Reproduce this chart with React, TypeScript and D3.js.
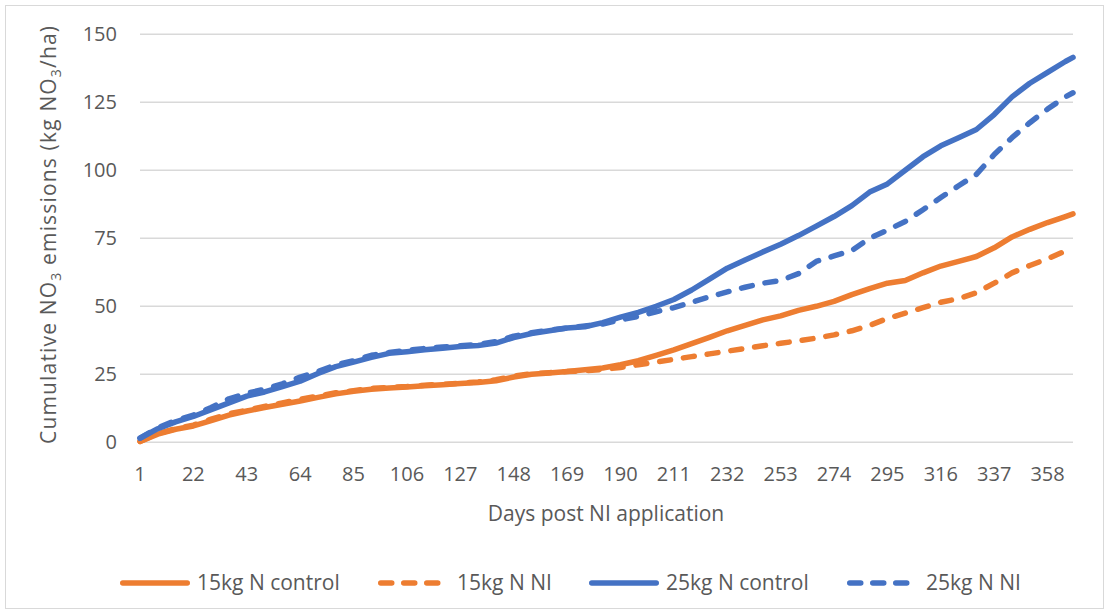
import React, { useEffect, useRef } from 'react';
import * as d3 from 'd3';

// Days at which the cumulative values were read
const days = [
  1, 8, 15, 22, 29, 36, 43, 50, 57, 64, 71, 78, 85, 92, 99, 106, 113, 120, 127, 134, 141, 148,
  155, 162, 169, 176, 183, 190, 197, 204, 211, 218, 225, 232, 239, 246, 253, 260, 267, 274, 281,
  288, 295, 302, 309, 316, 323, 330, 337, 344, 351, 358, 365, 368,
];

const control15 = [
  0.3, 3, 4.8, 6, 8, 10, 11.5, 12.8, 14, 15.2, 16.5, 17.8, 18.8, 19.5, 20, 20.3, 20.8, 21.2, 21.6,
  22, 22.6, 24, 25, 25.5, 26, 26.7, 27.3, 28.5, 30, 32, 34, 36.3, 38.6, 41, 43, 45, 46.5, 48.5, 50,
  51.8, 54.3, 56.5, 58.5, 59.5, 62.3, 64.8, 66.5, 68.3, 71.5, 75.5, 78.3, 80.8, 83, 84,
];

const ni15 = [
  0.3, 3.2, 5, 6.3, 8.5, 10.5, 11.8, 13.2, 14.5, 15.8, 17, 18.2, 19, 19.8, 20.2, 20.5, 21, 21.3,
  21.7, 22.2, 23, 24.3, 25.2, 25.6, 26, 26.3, 26.8, 27.5, 28.5, 29.5, 30.5, 31.5, 32.5, 33.5, 34.5,
  35.5, 36.4, 37.3, 38.3, 39.5, 41, 43, 45.5, 47.5, 49.5, 51.5, 52.8, 55, 58.5, 62.3, 65, 67.5,
  70.3, 71.5,
];

const control25 = [
  1.5, 5, 7.5, 9.5, 12, 14.5, 17, 18.5, 20.5, 22.5, 25.3, 27.8, 29.5, 31.2, 32.7, 33.3, 34, 34.6,
  35.2, 35.6, 36.5, 38.5, 40, 41, 42, 42.5, 44, 46, 47.8, 50, 52.5, 56, 60, 64, 67, 70, 72.8, 76,
  79.5, 83, 87, 92, 95, 100, 105, 109, 112, 115, 120.5, 127, 132, 136, 140, 141.5,
];

const ni25 = [
  1.5, 5.3, 8, 10, 12.8, 16, 18, 19.5, 21.5, 24, 26, 28.5, 30, 32, 33, 33.8, 34.5, 35, 35.5, 36,
  37, 39, 40.3, 41.2, 42, 42.8, 43.5, 45, 46.3, 48, 49.5, 51.5, 53.5, 55.3, 57, 58.5, 59.5, 62,
  66.5, 68.5, 70.5, 75, 78, 81.2, 85.5, 90, 94.3, 98.5, 105.8, 112, 117.5, 122.5, 127, 128.5,
];

const seriesNames = ['15kg N control', '15kg N NI', '25kg N control', '25kg N NI'];
const seriesValues = [control15, ni15, control25, ni25];
const seriesColors = ['#ED7D31', '#ED7D31', '#4472C4', '#4472C4'];
const seriesDashed = [false, true, false, true];

const xTickLabels = [1, 22, 43, 64, 85, 106, 127, 148, 169, 190, 211, 232, 253, 274, 295, 316, 337, 358];
const yTicks = [0, 25, 50, 75, 100, 125, 150];

const W = 1109;
const H = 614;
const FONT = '"Open Sans", sans-serif';

export default function App() {
  const ref = useRef<SVGSVGElement>(null);

  useEffect(() => {
    if (!ref.current) return;
    const svg = d3.select(ref.current);
    svg.selectAll('*').remove();

    const left = 140;
    const right = 1073;
    const top = 34.3;
    const bottom = 442.3;

    const x = d3.scaleLinear().domain([1, 368]).range([left, right]);
    const y = d3.scaleLinear().domain([0, 150]).range([bottom, top]);

    // outer chart border
    svg
      .append('rect')
      .attr('x', 5.5)
      .attr('y', 5.5)
      .attr('width', W - 11)
      .attr('height', H - 11)
      .attr('fill', '#fff')
      .attr('stroke', '#D9D9D9')
      .attr('stroke-width', 1);

    // gridlines
    svg
      .append('g')
      .selectAll('line')
      .data(yTicks)
      .enter()
      .append('line')
      .attr('x1', left)
      .attr('x2', right)
      .attr('y1', d => y(d))
      .attr('y2', d => y(d))
      .attr('stroke', '#D9D9D9')
      .attr('stroke-width', 1.5);

    // y tick labels
    svg
      .append('g')
      .selectAll('text')
      .data(yTicks)
      .enter()
      .append('text')
      .attr('x', 117)
      .attr('y', d => y(d))
      .attr('dy', '0.35em')
      .attr('text-anchor', 'end')
      .style('font-family', FONT)
      .style('font-size', '20px')
      .attr('fill', '#595959')
      .text(d => d);

    // x tick labels
    svg
      .append('g')
      .selectAll('text')
      .data(xTickLabels)
      .enter()
      .append('text')
      .attr('x', d => x(d))
      .attr('y', 481)
      .attr('text-anchor', 'middle')
      .style('font-family', FONT)
      .style('font-size', '20px')
      .attr('fill', '#595959')
      .text(d => d);

    // series lines
    const line = d3
      .line<number>()
      .x((_, i) => x(days[i]))
      .y(d => y(d))
      .curve(d3.curveLinear);

    seriesValues.forEach((vals, i) => {
      svg
        .append('path')
        .datum(vals)
        .attr('d', line)
        .attr('fill', 'none')
        .attr('stroke', seriesColors[i])
        .attr('stroke-width', 5.5)
        .attr('stroke-linecap', 'round')
        .attr('stroke-linejoin', 'round')
        .attr('stroke-dasharray', seriesDashed[i] ? '11 13' : null);
    });

    // axis titles
    const yTitle = svg
      .append('text')
      .attr('transform', 'translate(56,235) rotate(-90)')
      .attr('text-anchor', 'middle')
      .attr('textLength', 418)
      .attr('lengthAdjust', 'spacing')
      .style('font-family', FONT)
      .style('font-size', '21px')
      .attr('fill', '#595959');
    yTitle.append('tspan').text('Cumulative NO');
    yTitle.append('tspan').attr('font-size', '14px').attr('dy', 5).text('3');
    yTitle.append('tspan').attr('dy', -5).text('  emissions (kg NO');
    yTitle.append('tspan').attr('font-size', '14px').attr('dy', 5).text('3');
    yTitle.append('tspan').attr('dy', -5).text('/ha)');

    svg
      .append('text')
      .attr('x', 606)
      .attr('y', 521)
      .attr('text-anchor', 'middle')
      .style('font-family', FONT)
      .style('font-size', '21px')
      .attr('fill', '#595959')
      .text('Days post NI application');

    // legend
    const legendX = [120, 378, 589, 847];
    const legendY = 583;
    seriesNames.forEach((name, i) => {
      const dashed = seriesDashed[i];
      const x0 = legendX[i];
      const len = dashed ? 64 : 70;
      svg
        .append('line')
        .attr('x1', x0 + 2.75)
        .attr('x2', x0 + len - 2.75)
        .attr('y1', legendY)
        .attr('y2', legendY)
        .attr('stroke', seriesColors[i])
        .attr('stroke-width', 5.5)
        .attr('stroke-linecap', 'round')
        .attr('stroke-dasharray', dashed ? '11 12' : null);
      svg
        .append('text')
        .attr('x', x0 + len + (dashed ? 15 : 7))
        .attr('y', legendY)
        .attr('dy', '0.35em')
        .style('font-family', FONT)
        .style('font-size', '21px')
        .attr('fill', '#595959')
        .text(name);
    });
  }, []);

  return (
    <svg
      ref={ref}
      width={W}
      height={H}
      style={{ position: 'absolute', left: 0, top: 0, background: '#fff' }}
    />
  );
}
